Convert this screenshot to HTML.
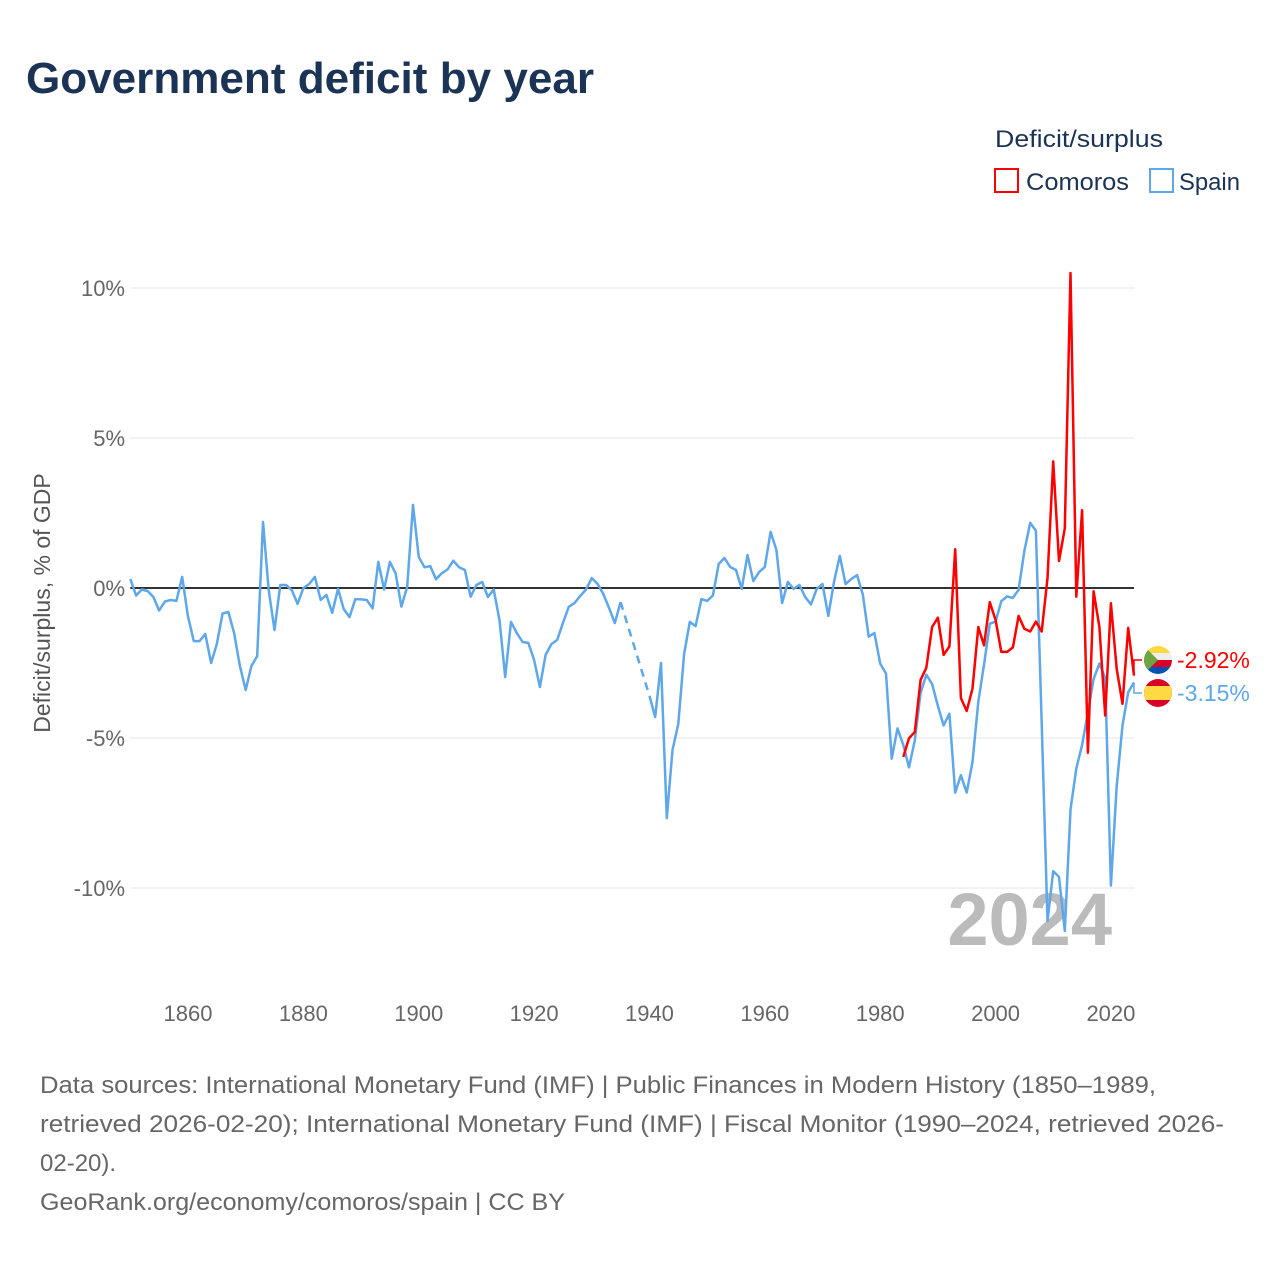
<!DOCTYPE html>
<html><head><meta charset="utf-8"><style>
body{margin:0;background:#fff;}
svg{display:block;font-family:"Liberation Sans",sans-serif;}
</style></head><body>
<svg id="chart" width="1280" height="1280" viewBox="0 0 1280 1280">
<text x="26" y="93" font-size="44" font-weight="bold" fill="#1b3354" textLength="568" lengthAdjust="spacingAndGlyphs">Government deficit by year</text>
<text x="995" y="147" font-size="24" fill="#1b3354" textLength="168" lengthAdjust="spacingAndGlyphs">Deficit/surplus</text>
<g><rect x="995" y="169" width="23" height="23" fill="none" stroke="#ff0000" stroke-width="2"/><text x="1026" y="190" font-size="24" fill="#1b3354" textLength="103" lengthAdjust="spacingAndGlyphs">Comoros</text></g>
<g><rect x="1150" y="169" width="23" height="23" fill="none" stroke="#5ea7ea" stroke-width="2"/><text x="1179" y="190" font-size="24" fill="#1b3354" textLength="61" lengthAdjust="spacingAndGlyphs">Spain</text></g>
<g id="grid"></g>
<g id="xaxis"></g>
<text transform="translate(50,603) rotate(-90)" text-anchor="middle" font-size="23" fill="#555">Deficit/surplus, % of GDP</text>
<text x="1112" y="945" text-anchor="end" font-size="74" font-weight="bold" fill="#bbb">2024</text>
<g id="series"></g>
<g id="labels"></g>
<g font-size="24" fill="#666">
<text x="40" y="1093" textLength="1116" lengthAdjust="spacingAndGlyphs">Data sources: International Monetary Fund (IMF) | Public Finances in Modern History (1850–1989,</text>
<text x="40" y="1132" textLength="1184" lengthAdjust="spacingAndGlyphs">retrieved 2026-02-20); International Monetary Fund (IMF) | Fiscal Monitor (1990–2024, retrieved 2026-</text>
<text x="40" y="1171">02-20).</text>
<text x="40" y="1210" textLength="525" lengthAdjust="spacingAndGlyphs">GeoRank.org/economy/comoros/spain | CC BY</text>
</g>
</svg>
<script>
const spainStart = 1850;
const spainValues = [0.3,-0.25,-0.05,-0.1,-0.3,-0.75,-0.45,-0.4,-0.43,0.37,-0.95,-1.77,-1.77,-1.53,-2.5,-1.87,-0.85,-0.8,-1.5,-2.6,-3.4,-2.6,-2.27,2.2,-0.07,-1.4,0.1,0.1,-0.07,-0.53,0.0,0.13,0.37,-0.4,-0.23,-0.83,-0.03,-0.7,-0.97,-0.37,-0.38,-0.4,-0.68,0.87,-0.05,0.87,0.49,-0.62,0.04,2.77,1.04,0.69,0.73,0.29,0.49,0.62,0.91,0.69,0.6,-0.29,0.1,0.2,-0.3,-0.05,-1.07,-2.97,-1.13,-1.5,-1.8,-1.83,-2.4,-3.3,-2.23,-1.87,-1.73,-1.17,-0.63,-0.5,-0.27,-0.05,0.33,0.14,-0.2,-0.67,-1.17,-0.47,null,null,null,null,-3.6,-4.3,-2.5,-7.67,-5.4,-4.53,-2.2,-1.13,-1.27,-0.37,-0.43,-0.25,0.8,1.0,0.7,0.6,-0.03,1.1,0.23,0.53,0.7,1.87,1.27,-0.5,0.2,-0.03,0.1,-0.3,-0.55,-0.03,0.13,-0.93,0.2,1.07,0.13,0.3,0.43,-0.23,-1.62,-1.5,-2.52,-2.85,-5.69,-4.68,-5.23,-5.98,-5.08,-3.5,-2.89,-3.2,-3.93,-4.58,-4.19,-6.82,-6.24,-6.82,-5.8,-3.79,-2.56,-1.19,-1.12,-0.44,-0.28,-0.33,-0.06,1.24,2.17,1.91,-4.5,-11.1,-9.44,-9.63,-11.43,-7.39,-6.02,-5.23,-4.15,-3.03,-2.52,-2.99,-9.92,-6.6,-4.58,-3.47,-3.15];
const comorosStart = 1984;
const comorosValues = [-5.63,-5.01,-4.8,-3.06,-2.66,-1.3,-0.99,-2.23,-1.95,1.29,-3.67,-4.1,-3.35,-1.3,-1.91,-0.47,-1.07,-2.13,-2.13,-1.98,-0.93,-1.36,-1.45,-1.12,-1.45,0.33,4.22,0.9,1.99,10.5,-0.29,2.59,-5.49,-0.11,-1.3,-4.25,-0.51,-2.7,-3.86,-1.33,-2.92];
const yTicks = [10,5,0,-5,-10];
const yTickLabels = ["10%","5%","0%","-5%","-10%"];
const xTicks = [1860,1880,1900,1920,1940,1960,1980,2000,2020];
const endLabels = ["-2.92%","-3.15%"];

const NS="http://www.w3.org/2000/svg";
const X0=130.3, X1=1134, Y0=1850, Y1=2024;
const x = yr => X0 + (yr - Y0) * (X1 - X0) / (Y1 - Y0);
const y = v => 588 - v * 30;
function mk(tag, attrs, parent){const e=document.createElementNS(NS,tag);for(const k in attrs)e.setAttribute(k,attrs[k]);parent.appendChild(e);return e;}

const grid=document.getElementById('grid');
yTicks.forEach((t,i)=>{
  const l=mk('line',{x1:X0,x2:X1,y1:y(t),y2:y(t),stroke:t===0?'#333':'#e6e6e6','stroke-width':t===0?2:1},grid);
  
  
  const tx=mk('text',{x:125,y:y(t)+8,'text-anchor':'end','font-size':22,fill:'#666'},grid);
  tx.textContent=yTickLabels[i];
  
  
});
const xa=document.getElementById('xaxis');
xTicks.forEach(t=>{
  const tx=mk('text',{x:x(t),y:1021,'text-anchor':'middle','font-size':22,fill:'#666'},xa);
  tx.textContent=t;
  
  
});

const ser=document.getElementById('series');
function drawSeries(start, vals, color, name){
  const g=mk('g',{},ser);
  
  
  let seg=[], lastPt=null, gapStart=null;
  const flush=()=>{ if(seg.length>1){const p=mk('path',{d:'M'+seg.join('L'),fill:'none',stroke:color,'stroke-width':2.5,'stroke-linejoin':'round'},g);
    
    } seg=[]; };
  vals.forEach((v,i)=>{
    const yr=start+i;
    if(v===null){ if(seg.length){gapStart=lastPt; flush();} return; }
    const pt=[x(yr).toFixed(1),y(v).toFixed(1)];
    if(gapStart){ const d=mk('line',{x1:gapStart[0],y1:gapStart[1],x2:pt[0],y2:pt[1],stroke:color,'stroke-width':2.5,'stroke-dasharray':'8,6'},g);
      
      
      gapStart=null; }
    seg.push(pt.join(',')); lastPt=pt;
  });
  flush();
}
drawSeries(spainStart, spainValues, '#5ea7ea', 'spain-series');
drawSeries(comorosStart, comorosValues, '#ff0000', 'comoros-series');

const lab=document.getElementById('labels');
const cy=660, sy=693;
let e=mk('path',{d:`M${X1},${y(comorosValues[comorosValues.length-1])}V${cy}H1142`,fill:'none',stroke:'#ff0000','stroke-width':1.5},lab);


e=mk('path',{d:`M${X1},${y(spainValues[spainValues.length-1])}V${sy}H1142`,fill:'none',stroke:'#5ea7ea','stroke-width':1.5},lab);


const fc=mk('g',{},lab);


mk('clipPath',{id:'cc'},fc).appendChild(document.createElementNS(NS,'circle'));
const cc=document.querySelector('#cc circle');cc.setAttribute('cx',1158);cc.setAttribute('cy',cy);cc.setAttribute('r',14);
const gc=mk('g',{'clip-path':'url(#cc)'},fc);
mk('rect',{x:1144,y:cy-14,width:28,height:7,fill:'#ffd83b'},gc);
mk('rect',{x:1144,y:cy-7,width:28,height:7,fill:'#eee'},gc);
mk('rect',{x:1144,y:cy,width:28,height:7,fill:'#d80027'},gc);
mk('rect',{x:1144,y:cy+7,width:28,height:7,fill:'#0052b4'},gc);
mk('path',{d:`M1144,${cy-14}L1158,${cy}L1144,${cy+14}Z`,fill:'#6da544'},gc);
const fs=mk('g',{},lab);


mk('clipPath',{id:'cs'},fs).appendChild(document.createElementNS(NS,'circle'));
const cs=document.querySelector('#cs circle');cs.setAttribute('cx',1158);cs.setAttribute('cy',sy);cs.setAttribute('r',14);
const gs=mk('g',{'clip-path':'url(#cs)'},fs);
mk('rect',{x:1144,y:sy-14,width:28,height:28,fill:'#d80027'},gs);
mk('rect',{x:1144,y:sy-7,width:28,height:14,fill:'#ffda44'},gs);
let t1=mk('text',{x:1177,y:cy+8,'font-size':23,fill:'#ff0000'},lab);
t1.textContent=endLabels[0];


let t2=mk('text',{x:1177,y:sy+8,'font-size':23,fill:'#5ea7ea'},lab);
t2.textContent=endLabels[1];


</script>
</body></html>
